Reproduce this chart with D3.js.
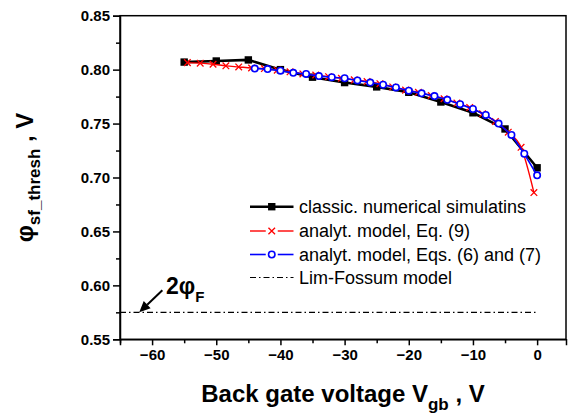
<!DOCTYPE html>
<html>
<head>
<meta charset="utf-8">
<script src="https://cdn.jsdelivr.net/npm/d3@7"></script>
<style>
  body { margin: 0; background: #fff; }
  svg { display: block; font-family: "Liberation Sans", Arial, sans-serif; }
</style>
</head>
<body>
<svg id="chart" width="573" height="417"></svg>
<script>
// classic numerical simulation (black squares)
const numV = [-55, -50, -45, -40, -35, -30, -25, -20, -15, -10, -5, 0];
const numPhi = [0.807, 0.808, 0.809, 0.800, 0.793, 0.788, 0.784, 0.779, 0.770, 0.760, 0.745, 0.709];

// analytical model, Eq. (9) (red crosses)
const eq9V = [-54.5, -52.5, -50.5, -48.5, -46.5, -44.5, -42.5, -40.5, -38.5, -36.5, -34.5, -32.5, -30.5, -28.5,
              -26.5, -24.5, -22.5, -20.5, -18.5, -16.5, -14.5, -12.5, -10.5, -8.5, -6.5, -4.5, -2.5, -0.5];
const eq9Phi = [0.8065, 0.806, 0.805, 0.8035, 0.8025, 0.8015, 0.801, 0.7995, 0.798, 0.796, 0.795, 0.7935, 0.792, 0.7905,
                0.789, 0.787, 0.784, 0.781, 0.779, 0.776, 0.773, 0.769, 0.765, 0.759, 0.752, 0.742, 0.728, 0.686];

// analytical model, Eqs. (6) and (7) (blue circles)
const eq67V = [-44, -42, -40, -38, -36, -34, -32, -30, -28, -26, -24, -22, -20, -18, -16, -14, -12, -10, -8, -6, -4, -2, 0];
const eq67Phi = [0.801, 0.8005, 0.799, 0.797, 0.796, 0.794, 0.793, 0.792, 0.790, 0.788, 0.786, 0.7835, 0.7805,
                 0.778, 0.7755, 0.772, 0.768, 0.7635, 0.758, 0.750, 0.7395, 0.722, 0.702];

// Lim-Fossum model: 2 phi_F
const limV = [-65, 0];
const limPhi = [0.575, 0.575];

const xTicks = [-60, -50, -40, -30, -20, -10, 0];
const yTicks = [0.55, 0.60, 0.65, 0.70, 0.75, 0.80, 0.85];

const legendLabels = ["classic. numerical simulatins", "analyt. model, Eq. (9)",
                      "analyt. model, Eqs. (6) and (7)", "Lim-Fossum model"];

const svg = d3.select("#chart");
const pLeft = 120, pRight = 566, pTop = 15.7, pBottom = 339.3;

const x = d3.scaleLinear().domain([-65, 4.5]).range([pLeft, pRight]);
const y = d3.scaleLinear().domain([0.55, 0.85]).range([pBottom, pTop]);

const zip = (a, b) => a.map((v, i) => [v, b[i]]);
const num = zip(numV, numPhi), eq9 = zip(eq9V, eq9Phi), eq67 = zip(eq67V, eq67Phi), lim = zip(limV, limPhi);

const line = d3.line().x(d => x(d[0])).y(d => y(d[1]));
const dashDot = "6,3,1.5,3";

// frame
svg.append("rect")
  .attr("x", pLeft).attr("y", pTop)
  .attr("width", pRight - pLeft).attr("height", pBottom - pTop)
  .attr("fill", "none").attr("stroke", "#000").attr("stroke-width", 1.5);

// x axis
svg.append("g").attr("transform", `translate(0,${pBottom})`)
  .call(d3.axisBottom(x).tickValues(xTicks).tickSize(6).tickPadding(4).tickFormat(d3.format("d")));
svg.append("g").attr("transform", `translate(0,${pBottom})`)
  .call(d3.axisBottom(x).tickValues(d3.range(-65, 5, 5).filter(v => v % 10 !== 0)).tickSize(4).tickFormat(""))
  .call(g => g.select(".domain").remove());

// y axis
svg.append("g").attr("transform", `translate(${pLeft},0)`)
  .call(d3.axisLeft(y).tickValues(yTicks).tickSize(7).tickPadding(3).tickFormat(d3.format(".2f")));
svg.append("g").attr("transform", `translate(${pLeft},0)`)
  .call(d3.axisLeft(y).tickValues([0.575, 0.625, 0.675, 0.725, 0.775, 0.825]).tickSize(4).tickFormat(""))
  .call(g => g.select(".domain").remove());

svg.selectAll(".tick line").attr("stroke-width", 1.5);
svg.selectAll(".domain").attr("stroke-width", 1.5);
svg.selectAll(".tick text")
  .attr("font-size", 15).attr("font-weight", "bold").attr("fill", "#000")
  .attr("font-family", "Liberation Sans, Arial, sans-serif");

// axis titles
const xt = svg.append("text")
  .attr("x", 343).attr("y", 402)
  .attr("text-anchor", "middle")
  .attr("font-size", 24).attr("font-weight", "bold");
xt.append("tspan").text("Back gate voltage V");
xt.append("tspan").attr("font-size", 17).attr("dy", 8).text("gb");
xt.append("tspan").attr("dy", -8).text(" , V");

const yt = svg.append("text")
  .attr("transform", `translate(33,${(pTop + pBottom) / 2}) rotate(-90)`)
  .attr("text-anchor", "middle")
  .attr("font-size", 24).attr("font-weight", "bold");
yt.append("tspan").text("φ");
yt.append("tspan").attr("font-size", 17).attr("dy", 7).text("sf_thresh");
yt.append("tspan").attr("dy", -7).text(" , V");

// Lim-Fossum line
svg.append("path").datum(lim)
  .attr("d", line).attr("fill", "none")
  .attr("stroke", "#000").attr("stroke-width", 1.2).attr("stroke-dasharray", dashDot);

// numerical: black
svg.append("path").datum(num)
  .attr("d", line).attr("fill", "none")
  .attr("stroke", "#000").attr("stroke-width", 2.6);
svg.selectAll(".sq").data(num).enter().append("rect")
  .attr("x", d => x(d[0]) - 3.7).attr("y", d => y(d[1]) - 3.7)
  .attr("width", 7.4).attr("height", 7.4).attr("fill", "#000");

// Eq. (9): red
svg.append("path").datum(eq9)
  .attr("d", d3.line().x(d => x(d[0])).y(d => y(d[1])).curve(d3.curveMonotoneX)).attr("fill", "none")
  .attr("stroke", "#ff0000").attr("stroke-width", 1.4);
const cross = (g, cx, cy, s) => {
  g.append("path")
    .attr("d", `M${cx - s},${cy - s}L${cx + s},${cy + s}M${cx - s},${cy + s}L${cx + s},${cy - s}`)
    .attr("stroke", "#ff0000").attr("stroke-width", 1.3).attr("fill", "none");
};
const crosses = svg.append("g");
eq9.forEach(d => cross(crosses, x(d[0]), y(d[1]), 3.3));

// Eqs. (6),(7): blue
svg.append("path").datum(eq67)
  .attr("d", line).attr("fill", "none")
  .attr("stroke", "#0000ff").attr("stroke-width", 1.6);
svg.selectAll(".circ").data(eq67).enter().append("circle")
  .attr("cx", d => x(d[0])).attr("cy", d => y(d[1])).attr("r", 3.2)
  .attr("fill", "#fff").attr("stroke", "#0000ff").attr("stroke-width", 1.6);

// annotation 2φF
const tipX = x(-62), tipY = y(0.575);
const tailX = x(-58.4), tailY = y(0.5955);
const ang = Math.atan2(tipY - tailY, tipX - tailX);
const hl = 11, hw = 5;
const bx = tipX - hl * Math.cos(ang), by = tipY - hl * Math.sin(ang);
svg.append("line")
  .attr("x1", tailX).attr("y1", tailY).attr("x2", bx).attr("y2", by)
  .attr("stroke", "#000").attr("stroke-width", 2);
svg.append("path")
  .attr("d", `M${tipX},${tipY}L${bx + hw * Math.sin(ang)},${by - hw * Math.cos(ang)}L${bx - hw * Math.sin(ang)},${by + hw * Math.cos(ang)}Z`)
  .attr("fill", "#000");
const ann = svg.append("text")
  .attr("x", 166).attr("y", 293.5)
  .attr("font-size", 23).attr("font-weight", "bold");
ann.append("tspan").text("2φ");
ann.append("tspan").attr("font-size", 15).attr("dy", 8).text("F");

// legend
const lg = svg.append("g");
const rowY = [206.7, 231, 254.5, 277.5];
const lx0 = 250, lx1 = 293.5, lmid = (lx0 + lx1) / 2;
legendLabels.forEach((t, i) => {
  lg.append("text").attr("x", 299).attr("y", rowY[i] + 6.3)
    .attr("font-size", 18).text(t);
});
// row 0
lg.append("line").attr("x1", lx0).attr("x2", lx1).attr("y1", rowY[0]).attr("y2", rowY[0])
  .attr("stroke", "#000").attr("stroke-width", 2.6);
lg.append("rect").attr("x", lmid - 3.7).attr("y", rowY[0] - 3.7).attr("width", 7.4).attr("height", 7.4).attr("fill", "#000");
// row 1
[[lx0, lmid - 6], [lmid + 6, lx1]].forEach(s => {
  lg.append("line").attr("x1", s[0]).attr("x2", s[1]).attr("y1", rowY[1]).attr("y2", rowY[1])
    .attr("stroke", "#ff0000").attr("stroke-width", 1.4);
});
cross(lg, lmid, rowY[1], 3.3);
// row 2
[[lx0, lmid - 6], [lmid + 6, lx1]].forEach(s => {
  lg.append("line").attr("x1", s[0]).attr("x2", s[1]).attr("y1", rowY[2]).attr("y2", rowY[2])
    .attr("stroke", "#0000ff").attr("stroke-width", 1.6);
});
lg.append("circle").attr("cx", lmid).attr("cy", rowY[2]).attr("r", 3.2)
  .attr("fill", "#fff").attr("stroke", "#0000ff").attr("stroke-width", 1.6);
// row 3
lg.append("line").attr("x1", lx0).attr("x2", lx1).attr("y1", rowY[3]).attr("y2", rowY[3])
  .attr("stroke", "#000").attr("stroke-width", 1.2).attr("stroke-dasharray", dashDot);
</script>
</body>
</html>
